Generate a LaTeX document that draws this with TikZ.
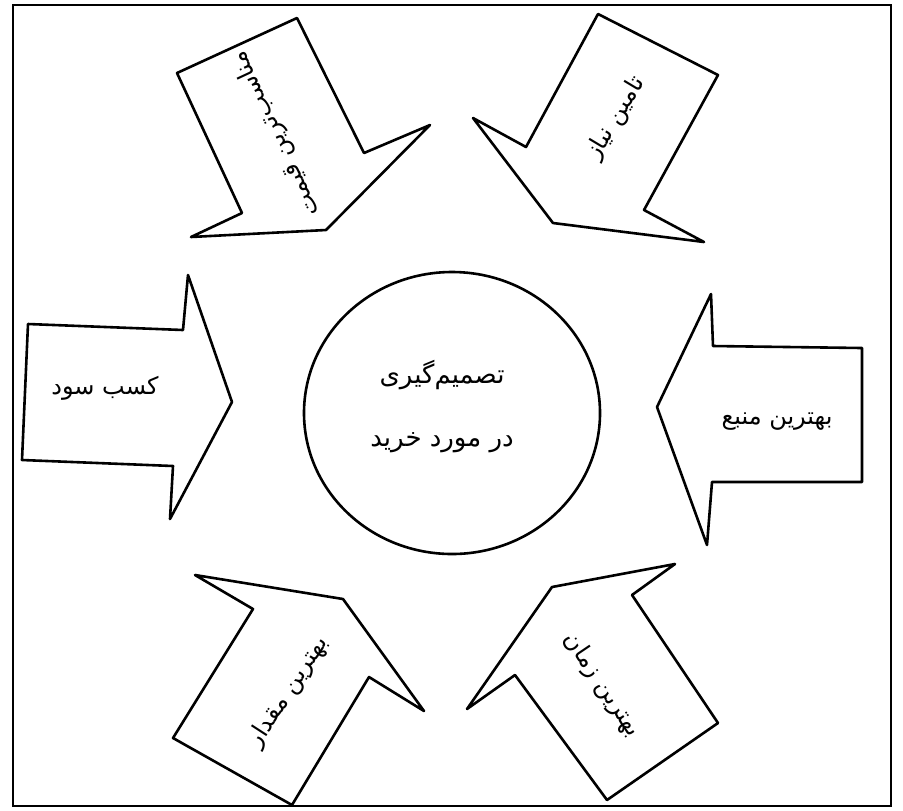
\documentclass[tikz,border=0pt]{standalone}
\usepackage{fontspec}
\newfontfamily\farsi[Script=Arabic]{DejaVu Sans}
\TeXXeTstate=1
\usetikzlibrary{shapes.geometric}
\definecolor{ink}{HTML}{000000}
\tikzset{
  every node/.style={font=\farsi\fontsize{12}{14}\selectfont, text=ink},
  frame/.style={draw=ink, line width=1pt},
  blockarrow/.style={draw=ink, line width=1.3pt, line join=round, fill=white},
  hub/.style={ellipse, draw=ink, line width=1.3pt, minimum width=148pt, minimum height=141pt, inner sep=0pt},
  hubtext/.style={font=\farsi\fontsize{13}{15}\selectfont},
  arrowtext/.style={inner sep=1pt},
}
\newcommand{\rtl}[1]{\beginR #1\endR}

\begin{document}
\begin{tikzpicture}[x=0.5pt, y=-0.5pt]
  \useasboundingbox (0,0) rectangle (903,810);
  \draw[frame] (13,5) rectangle (891,806);

  \node[hub] (decision) at (452,413) {};
  \node[hubtext] (decisionA) at (442,375) {\rtl{تصمیم‌گیری}};
  \node[hubtext] (decisionB) at (442,443) {\rtl{در مورد خرید}};

  % left and right
  \draw[blockarrow] (28,324) -- (183,330) -- (188,275) -- (232,402) -- (170,519) -- (173,466) -- (22,460) -- cycle;
  \node[arrowtext] (profit) at (105,388) {\rtl{کسب سود}};
  \draw[blockarrow] (657,407) -- (711,294) -- (713,346) -- (862,348) -- (862,482) -- (712,482) -- (707,545) -- cycle;
  \node[arrowtext] (source) at (777,422) {\rtl{بهترین منبع}};

  % top
  \draw[blockarrow] (177,73) -- (297,18) -- (364,153) -- (430,125) -- (326,230) -- (191,237) -- (242,213) -- cycle;
  \node[arrowtext, rotate=115] (price) at (276,134) {\rtl{مناسب‌ترین قیمت}};
  \draw[blockarrow] (598,14) -- (718,75) -- (644,210) -- (704,242) -- (553,223) -- (473,118) -- (526,147) -- cycle;
  \node[arrowtext, rotate=59] (need) at (616,118) {\rtl{تامین نیاز}};

  % bottom
  \draw[blockarrow] (173,738) -- (253,609) -- (195,575) -- (343,599) -- (424,711) -- (369,677) -- (292,805) -- cycle;
  \node[arrowtext, rotate=57] (amount) at (288,692) {\rtl{بهترین مقدار}};
  \draw[blockarrow] (552,587) -- (675,564) -- (632,595) -- (718,723) -- (607,800) -- (515,675) -- (467,709) -- cycle;
  \node[arrowtext, rotate=-56] (timing) at (602,685) {\rtl{بهترین زمان}};
\end{tikzpicture}
\end{document}
